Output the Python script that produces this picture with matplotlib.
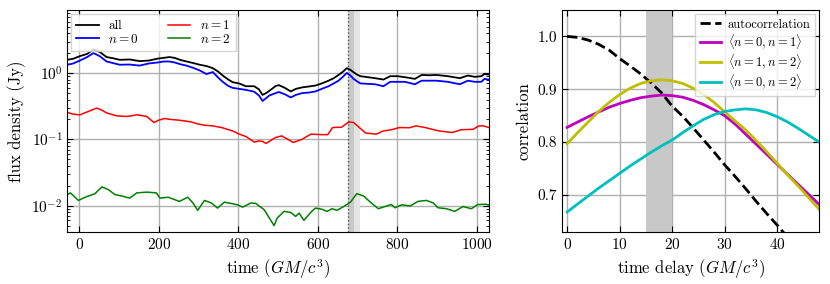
import matplotlib
matplotlib.use("Agg")
import matplotlib.pyplot as plt

plt.rcParams['font.family'] = 'serif'
plt.rcParams['font.serif'] = ['cmr10']
plt.rcParams['mathtext.fontset'] = 'cm'
plt.rcParams['axes.formatter.use_mathtext'] = True
plt.rcParams['axes.unicode_minus'] = False

# light curves (time in GM/c^3, flux in Jy)
all_t = [-30, -15, 2, 20, 36, 52, 69, 85, 102, 127, 152, 175, 198, 212, 227, 240, 255, 270, 287, 303,
         320, 336, 350, 361, 375, 386, 402, 419, 440, 452, 461, 470, 478, 494, 502, 517, 532, 545, 561, 578,
         594, 610, 627, 640, 652, 663, 673, 682, 690, 699, 707, 725, 744, 765, 782, 800, 819, 844, 861, 880,
         898, 927, 957, 977, 995, 1011, 1019, 1030]
all_flux = [1.59, 1.65, 1.81, 1.95, 2.28, 2.08, 1.75, 1.68, 1.59, 1.61, 1.52, 1.55, 1.66, 1.70, 1.75, 1.70, 1.58, 1.50, 1.42, 1.34,
            1.28, 1.19, 1.05, 0.92, 0.80, 0.73, 0.70, 0.635, 0.635, 0.57, 0.47, 0.50, 0.54, 0.64, 0.66, 0.60, 0.53, 0.58, 0.61, 0.63,
            0.65, 0.70, 0.77, 0.84, 0.94, 1.05, 1.19, 1.12, 1.03, 0.95, 0.90, 0.87, 0.84, 0.80, 0.90, 0.90, 0.87, 0.82, 0.94, 0.93,
            0.94, 0.90, 0.84, 0.92, 0.88, 0.90, 0.97, 0.95]
n0_flux = [1.34, 1.40, 1.55, 1.75, 2.01, 1.80, 1.50, 1.42, 1.34, 1.35, 1.30, 1.40, 1.45, 1.50, 1.50, 1.45, 1.36, 1.30, 1.20, 1.10,
           0.97, 1.04, 0.85, 0.74, 0.64, 0.60, 0.58, 0.56, 0.525, 0.46, 0.38, 0.42, 0.46, 0.50, 0.52, 0.48, 0.43, 0.47, 0.50, 0.51,
           0.53, 0.58, 0.635, 0.70, 0.77, 0.88, 1.01, 0.92, 0.82, 0.75, 0.70, 0.69, 0.68, 0.635, 0.74, 0.74, 0.74, 0.68, 0.77, 0.77,
           0.77, 0.74, 0.68, 0.77, 0.74, 0.74, 0.82, 0.80]

n1_t = [-30, -15, 2, 20, 44, 55, 70, 94, 120, 146, 170, 188, 200, 214, 230, 248, 265, 281, 300, 314,
        336, 360, 386, 403, 420, 440, 452, 461, 470, 480, 494, 509, 525, 538, 560, 582, 610, 625, 637, 660,
        678, 690, 705, 720, 747, 764, 785, 805, 830, 847, 870, 905, 938, 960, 990, 1005, 1017, 1030]
n1_flux = [0.256, 0.24, 0.235, 0.26, 0.297, 0.28, 0.25, 0.227, 0.222, 0.235, 0.222, 0.18, 0.195, 0.207, 0.20, 0.196, 0.19, 0.184, 0.17, 0.164,
           0.160, 0.15, 0.134, 0.12, 0.11, 0.091, 0.095, 0.093, 0.087, 0.095, 0.107, 0.113, 0.10, 0.09, 0.10, 0.12, 0.118, 0.118, 0.151, 0.153,
           0.184, 0.18, 0.15, 0.125, 0.12, 0.134, 0.14, 0.151, 0.15, 0.16, 0.151, 0.134, 0.127, 0.14, 0.142, 0.16, 0.16, 0.151]

n2_t = [-30, -22, -2, 15, 40, 57, 73, 90, 111, 127, 145, 170, 194, 203, 224, 252, 273, 286, 298, 315,
        332, 348, 365, 382, 398, 411, 432, 444, 465, 490, 498, 515, 532, 544, 553, 565, 582, 594, 611, 623,
        636, 648, 665, 682, 698, 715, 732, 752, 773, 785, 794, 811, 832, 852, 873, 890, 902, 923, 944, 965,
        986, 1002, 1023, 1030]
n2_flux = [0.0147, 0.0156, 0.012, 0.0134, 0.0152, 0.0192, 0.0175, 0.0147, 0.0138, 0.013, 0.0156, 0.016, 0.0156, 0.013, 0.0134, 0.0116, 0.0134, 0.011, 0.0085, 0.012,
           0.011, 0.0092, 0.0113, 0.0108, 0.0103, 0.0095, 0.011, 0.0108, 0.0087, 0.005, 0.0065, 0.0082, 0.0079, 0.0069, 0.0077, 0.006, 0.0079, 0.0092, 0.0088, 0.0082,
           0.009, 0.0085, 0.0097, 0.0113, 0.0152, 0.014, 0.0113, 0.009, 0.0099, 0.0104, 0.0093, 0.0103, 0.0099, 0.0116, 0.012, 0.011, 0.0093, 0.009, 0.0082, 0.0097,
           0.009, 0.0104, 0.0105, 0.0102]

t_peak = 675

# correlations vs time delay
delay = [0, 2, 4, 6, 8, 10, 12, 14, 16, 18, 20, 22, 24, 26, 28, 30, 32, 34, 36, 38, 40, 42, 44, 46, 48]
autocorr = [1.0, 0.998, 0.993, 0.985, 0.974, 0.958, 0.944, 0.929, 0.912, 0.893, 0.868, 0.849, 0.827, 0.804, 0.781,
            0.757, 0.735, 0.712, 0.688, 0.665, 0.643, 0.62, 0.60, 0.58, 0.56]
corr_01 = [0.828, 0.838, 0.848, 0.857, 0.866, 0.873, 0.879, 0.884, 0.887, 0.889, 0.888, 0.885, 0.879, 0.871, 0.861,
           0.850, 0.834, 0.815, 0.796, 0.777, 0.758, 0.739, 0.720, 0.701, 0.682]
corr_12 = [0.797, 0.818, 0.838, 0.858, 0.875, 0.89, 0.902, 0.911, 0.916, 0.918, 0.916, 0.911, 0.902, 0.89, 0.875,
           0.857, 0.84, 0.823, 0.803, 0.782, 0.76, 0.738, 0.717, 0.695, 0.673]
corr_02 = [0.668, 0.683, 0.698, 0.713, 0.727, 0.741, 0.755, 0.768, 0.781, 0.793, 0.804, 0.818, 0.831, 0.843, 0.852,
           0.858, 0.861, 0.863, 0.861, 0.856, 0.848, 0.838, 0.826, 0.813, 0.80]

fig = plt.figure(figsize=(8.3, 2.84), dpi=100)
ax1 = fig.add_axes([0.081, 0.183, 0.508, 0.782])
ax2 = fig.add_axes([0.677, 0.183, 0.310, 0.782])

for ax in (ax1, ax2):
    ax.tick_params(which='both', direction='in', top=True, right=True, labelsize=11)
    ax.tick_params(which='major', length=4)
    ax.tick_params(which='minor', length=2)
    ax.grid(True, color='#b0b0b0', linewidth=1)
    ax.set_axisbelow(True)

# left panel
ax1.axvspan(t_peak, t_peak + 15, color='#c8c8c8', lw=0)
ax1.axvspan(t_peak + 15, t_peak + 30, color='#e4e4e4', lw=0)
ax1.axvline(t_peak, color='#555555', ls=':', lw=1)
ax1.plot(all_t, all_flux, color='k', lw=1.3, label='all')
ax1.plot(all_t, n0_flux, color='b', lw=1.3, label='$n=0$')
ax1.plot(n1_t, n1_flux, color='r', lw=1.1, label='$n=1$')
ax1.plot(n2_t, n2_flux, color='g', lw=1.1, label='$n=2$')
ax1.set_yscale('log')
ax1.set_xlim(-30, 1030)
ax1.set_ylim(0.004, 9)
ax1.set_xticks([0, 200, 400, 600, 800, 1000])
ax1.set_xlabel('time ($GM/c^3$)', fontsize=12)
ax1.set_ylabel('flux density (Jy)', fontsize=12)
ax1.legend(loc='upper left', ncol=2, fontsize=9.5, handlelength=1.7, handletextpad=0.7,
           columnspacing=2.2, borderaxespad=0.3, labelspacing=0.05,
           fancybox=False, edgecolor='#cccccc')

# right panel
ax2.axvspan(15, 20, color='#c8c8c8', lw=0)
ax2.plot(delay[:22], autocorr[:22], color='k', ls='--', lw=2, label='autocorrelation')
ax2.plot(delay, corr_01, color='m', lw=2, label=r'$\langle n=0, n=1\rangle$')
ax2.plot(delay, corr_12, color='y', lw=2, label=r'$\langle n=1, n=2\rangle$')
ax2.plot(delay, corr_02, color='c', lw=2, label=r'$\langle n=0, n=2\rangle$')
ax2.set_xlim(-1, 48)
ax2.set_ylim(0.63, 1.05)
ax2.set_xticks([0, 10, 20, 30, 40])
ax2.set_yticks([0.7, 0.8, 0.9, 1.0])
ax2.set_yticklabels(['0.7', '0.8', '0.9', '1.0'])
ax2.set_xlabel('time delay ($GM/c^3$)', fontsize=12)
ax2.set_ylabel('correlation', fontsize=12)
ax2.legend(loc='upper right', fontsize=9, handlelength=1.7, handletextpad=0.5,
           borderaxespad=0.3, labelspacing=0.1, fancybox=False, edgecolor='#cccccc')

fig.savefig('out.png', dpi=100)
